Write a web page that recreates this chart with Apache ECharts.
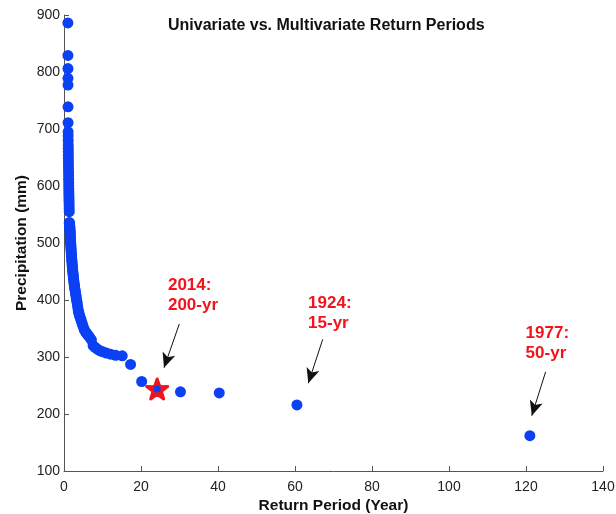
<!DOCTYPE html>
<html>
<head>
<meta charset="utf-8">
<script src="https://cdn.jsdelivr.net/npm/echarts@6/dist/echarts.min.js"></script>
<style>
  html, body { margin: 0; padding: 0; background: #fff; }
  #chart { width: 616px; height: 514px; }
</style>
</head>
<body>
<div id="chart"></div>
<script>
// return period (year) of each event, largest first
const returnPeriod = [
  121, 60.5, 40.33, 30.25, 24.2, 20.17, 17.29, 15.13, 13.44, 12.1,
  11, 10.08, 9.31, 8.64, 8.07, 7.56, 7.12, 6.72, 6.37, 6.05,
  5.76, 5.5, 5.26, 5.04, 4.84, 4.65, 4.48, 4.32, 4.17, 4.03,
  3.9, 3.78, 3.67, 3.56, 3.46, 3.36, 3.27, 3.18, 3.1, 3.03,
  2.95, 2.88, 2.81, 2.75, 2.69, 2.63, 2.57, 2.52, 2.47, 2.42,
  2.37, 2.33, 2.28, 2.24, 2.2, 2.16, 2.12, 2.09, 2.05, 2.02,
  1.98, 1.95, 1.92, 1.89, 1.86, 1.83, 1.81, 1.78, 1.75, 1.73,
  1.7, 1.68, 1.66, 1.64, 1.61, 1.59, 1.57, 1.55, 1.53, 1.51,
  1.49, 1.48, 1.46, 1.44, 1.42, 1.41, 1.39, 1.38, 1.36, 1.34,
  1.33, 1.32, 1.3, 1.29, 1.27, 1.26, 1.25, 1.23, 1.22, 1.21,
  1.2, 1.19, 1.17, 1.16, 1.15, 1.14, 1.13, 1.12, 1.11, 1.1,
  1.09, 1.08, 1.07, 1.06, 1.05, 1.04, 1.03, 1.03, 1.02, 1.01
]
// precipitation (mm), same order
const precipitation = [
  162, 216, 237, 239, 244, 257, 287, 302, 303, 305,
  307, 309, 311, 314, 317, 320, 330, 334, 337, 340,
  342, 345, 348, 352, 356, 360, 364, 367, 370, 373,
  376, 379, 383, 388, 393, 397, 400, 404, 408, 411,
  414, 417, 420, 423, 426, 429, 432, 435, 438, 441,
  444, 447, 450, 453, 456, 459, 462, 465, 468, 471,
  474, 477, 480, 483, 486, 489, 492, 495, 498, 501,
  504, 507, 510, 513, 516, 519, 521, 523, 525, 527,
  529, 530, 531, 532, 533, 534, 535, 536, 555, 560,
  565, 570, 575, 580, 585, 590, 595, 600, 606, 612,
  618, 624, 630, 636, 642, 648, 654, 660, 666, 672,
  680, 688, 695, 711, 739, 777, 789, 806, 829, 886
]

// 2014 event (star)
const eventPeriod = [24.2]
const eventPrecip = [244]

// annotations: text anchored top-left, arrows from -> to (data units)
const noteText = ['2014:\n200-yr', '1924:\n15-yr', '1977:\n50-yr']
const noteX = [27.0, 63.4, 119.9]
const noteY = [443, 411, 359]
const arrowFrom = [[29.95, 358], [67.2, 331], [125.1, 274]]
const arrowTo = [[25.97, 281], [63.45, 254], [121.5, 197]]

const xTicks = [0, 20, 40, 60, 80, 100, 120, 140]
const yTicks = [100, 200, 300, 400, 500, 600, 700, 800, 900]

const FONT = '"Liberation Sans", Arial, Helvetica, sans-serif'
const BLUE = '#0b40f4'
const RED = '#f2141c'
const STAR = 'path://M50,0 L61.8,35.1 L97.6,34.5 L69,56.2 L79.4,90.5 L50,69.9 L20.6,90.5 L31,56.2 L2.4,34.5 L38.2,35.1 Z'

const chart = echarts.init(document.getElementById('chart'))

const axisCommon = {
  axisLine: { show: true, lineStyle: { color: '#555', width: 1 } },
  axisTick: { show: true, inside: true, length: 5, lineStyle: { color: '#555' } },
  axisLabel: { color: '#222', fontSize: 14, fontFamily: FONT },
  splitLine: { show: false },
  nameLocation: 'middle',
  nameMoveOverlap: false,
  nameTextStyle: { color: '#111', fontSize: 15.5, fontWeight: 'bold', fontFamily: FONT }
}

chart.setOption({
  animation: false,
  backgroundColor: '#fff',
  title: {
    text: 'Univariate vs. Multivariate Return Periods',
    left: 163,
    top: 13,
    textStyle: { color: '#111', fontSize: 16, fontWeight: 'bold', fontFamily: FONT }
  },
  grid: { left: 64, right: 13, top: 15, bottom: 43, outerBoundsMode: 'none' },
  xAxis: Object.assign({}, axisCommon, {
    type: 'value',
    min: xTicks[0],
    max: xTicks[xTicks.length - 1],
    interval: xTicks[1] - xTicks[0],
    name: 'Return Period (Year)',
    nameGap: 27,
    axisLabel: Object.assign({}, axisCommon.axisLabel, { margin: 9 })
  }),
  yAxis: Object.assign({}, axisCommon, {
    type: 'value',
    min: yTicks[0],
    max: yTicks[yTicks.length - 1],
    interval: yTicks[1] - yTicks[0],
    name: 'Precipitation (mm)',
    nameGap: 34,
    axisLabel: Object.assign({}, axisCommon.axisLabel, { margin: 4 })
  }),
  series: [
    {
      type: 'scatter',
      data: returnPeriod.map((x, i) => [x, precipitation[i]]),
      symbolSize: 11,
      itemStyle: { color: BLUE, opacity: 1 },
      markLine: {
        silent: true,
        symbol: ['none', 'arrow'],
        symbolSize: [10, 15],
        label: { show: false },
        lineStyle: { color: '#111', width: 1, type: 'solid' },
        data: arrowFrom.map((p, i) => [{ coord: p }, { coord: arrowTo[i] }])
      }
    },
    {
      type: 'scatter',
      data: eventPeriod.map((x, i) => [x, eventPrecip[i]]),
      symbol: STAR,
      symbolSize: 21,
      symbolKeepAspect: true,
      itemStyle: { color: RED, borderColor: RED, borderWidth: 3, borderJoin: 'round', opacity: 1 },
      z: 3
    },
    {
      type: 'scatter',
      data: eventPeriod.map((x, i) => [x, eventPrecip[i]]),
      symbolSize: 7,
      itemStyle: { color: BLUE, opacity: 1 },
      z: 4
    },
    {
      type: 'scatter',
      data: noteX.map((x, i) => [x, noteY[i]]),
      symbolSize: 0,
      silent: true,
      itemStyle: { opacity: 1 },
      label: {
        show: true,
        position: 'inside',
        align: 'left',
        verticalAlign: 'top',
        formatter: p => noteText[p.dataIndex],
        color: RED,
        fontSize: 17,
        fontWeight: 'bold',
        lineHeight: 20,
        fontFamily: FONT
      }
    }
  ]
})
</script>
</body>
</html>
